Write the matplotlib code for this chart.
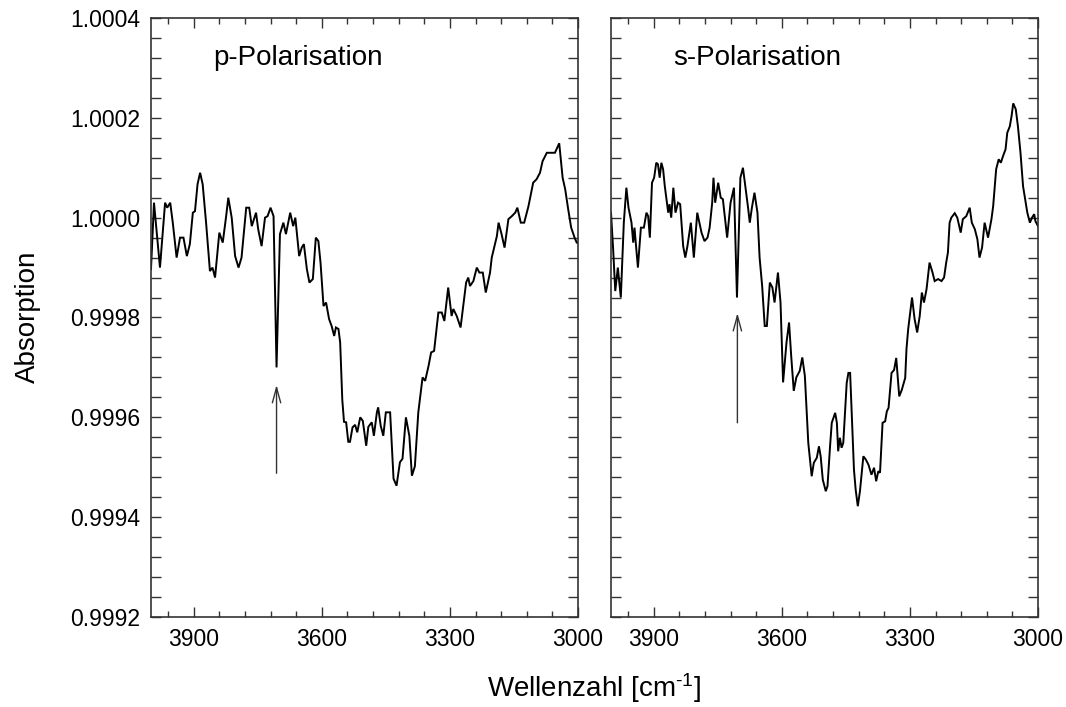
import numpy as np
import matplotlib
matplotlib.use("Agg")
import matplotlib.pyplot as plt
from matplotlib.ticker import MultipleLocator, FixedLocator, FormatStrFormatter

plt.rcParams['font.family'] = ['Liberation Sans', 'DejaVu Sans']
plt.rcParams['mathtext.fontset'] = 'custom'
plt.rcParams['mathtext.rm'] = 'Liberation Sans'
plt.rcParams['mathtext.it'] = 'Liberation Sans'

# ---- data: wavenumber (cm^-1) and absorption offset from 1.0 in units of 1e-4 ----
p_wn = [4000, 3993, 3979, 3967, 3962, 3955, 3949, 3940, 3932, 3924,
        3916, 3909, 3902, 3897, 3891, 3885, 3879, 3871, 3862, 3856,
        3850, 3840, 3832, 3824, 3819, 3811, 3803, 3795, 3788, 3777,
        3770, 3764, 3754, 3749, 3741, 3733, 3727, 3720, 3713, 3706,
        3698, 3690, 3684, 3674, 3667, 3662, 3653, 3647, 3642, 3635,
        3629, 3621, 3614, 3608, 3603, 3596, 3590, 3583, 3577, 3571,
        3567, 3561, 3557,
        3552, 3548, 3543, 3538, 3534, 3528, 3522, 3517, 3510, 3504,
        3496, 3491, 3483, 3478, 3471, 3468, 3462, 3456, 3450, 3440,
        3432, 3425, 3417, 3411, 3403, 3395, 3389, 3382, 3374, 3364,
        3358, 3350, 3344, 3337, 3327, 3319, 3313, 3304, 3296, 3292,
        3284, 3275, 3262, 3257, 3253, 3245, 3237, 3231, 3223, 3216,
        3206, 3202, 3190, 3186, 3179, 3172, 3163, 3155, 3147, 3142,
        3134, 3126, 3116, 3105, 3097, 3089, 3083, 3073, 3054, 3044,
        3036, 3030, 3023, 3016, 3008, 3003, 3000]
p_off = [-1.03, 0.30, -1.00, 0.30, 0.20, 0.30, -0.10, -0.80, -0.40, -0.40,
         -0.77, -0.53, 0.10, 0.13, 0.67, 0.90, 0.67, -0.10, -1.07, -1.00,
         -1.20, -0.30, -0.50, 0.03, 0.40, 0.00, -0.77, -1.00, -0.80, 0.20,
         0.20, -0.17, 0.10, -0.23, -0.57, 0.00, 0.03, 0.20, 0.03, -3.00,
         -0.33, -0.10, -0.33, 0.10, -0.17, 0.00, -0.77, -0.60, -0.53, -1.03,
         -1.30, -1.23, -0.40, -0.47, -0.90, -1.77, -1.70, -2.03, -2.17, -2.37,
         -2.20, -2.23, -2.50,
         -3.65, -4.09, -4.10, -4.49, -4.49, -4.20, -4.15, -4.30, -4.00, -4.07,
         -4.57, -4.19, -4.10, -4.37, -3.90, -3.80, -4.17, -4.37, -3.90, -3.90,
         -5.23, -5.37, -4.90, -4.83, -4.00, -4.37, -5.17, -4.98, -3.90, -3.20,
         -3.27, -2.97, -2.70, -2.67, -1.90, -1.90, -2.07, -1.40, -1.97, -1.83,
         -1.97, -2.20, -1.30, -1.20, -1.37, -1.27, -1.00, -1.10, -1.10, -1.50,
         -1.10, -0.80, -0.37, -0.10, -0.33, -0.60, -0.03, 0.03, 0.10, 0.20,
         -0.10, -0.10, 0.23, 0.70, 0.77, 0.90, 1.13, 1.30, 1.30, 1.49,
         0.80, 0.57, 0.17, -0.20, -0.40, -0.50, -0.50]

s_wn = [4000, 3995, 3990, 3984, 3977, 3970, 3964, 3959, 3952, 3948,
        3945, 3937, 3930, 3923, 3917, 3913, 3909, 3904, 3899, 3894,
        3890, 3886, 3882, 3878, 3874, 3866, 3863, 3859, 3854, 3849,
        3843, 3838, 3831, 3826, 3821, 3813, 3806, 3798, 3788, 3781,
        3774, 3769, 3763, 3760, 3756, 3749, 3743, 3738, 3728, 3720,
        3712, 3705, 3697, 3691, 3685, 3679, 3675, 3670, 3664, 3657,
        3652, 3646, 3640, 3635, 3628, 3622, 3617, 3609, 3603, 3597,
        3589, 3583, 3578, 3572, 3566, 3558, 3552, 3546,
        3538, 3530, 3525, 3518, 3513, 3509, 3504, 3497, 3493, 3487,
        3483, 3475, 3471, 3468, 3464, 3460, 3456, 3448, 3444, 3440,
        3436, 3431, 3427, 3422, 3417, 3409, 3403, 3397, 3390, 3384,
        3379, 3374, 3370, 3364, 3358, 3354, 3350, 3343, 3337, 3332,
        3325, 3319, 3311,
        3308, 3304, 3295, 3289, 3283, 3277, 3272, 3267, 3261, 3254,
        3247, 3242, 3234, 3226, 3220, 3215, 3211, 3207, 3203, 3195,
        3189, 3181, 3176, 3168, 3160, 3155, 3148, 3142, 3137, 3131,
        3125, 3117, 3109, 3105, 3098, 3092, 3087, 3082, 3076, 3072,
        3066, 3062, 3058, 3052, 3047, 3041, 3035, 3030, 3025, 3019,
        3014, 3009, 3006, 3000]
s_off = [0.10, -0.63, -1.47, -1.00, -1.60, -0.10, 0.60, 0.20, -0.10, -0.50,
         -0.20, -1.00, -0.20, -0.20, 0.10, 0.03, -0.40, 0.70, 0.80, 1.10,
         1.07, 0.80, 1.10, 0.97, 0.63, 0.10, 0.27, 0.00, 0.60, 0.10,
         0.30, 0.27, -0.57, -0.80, -0.57, -0.10, -0.80, 0.10, -0.30, -0.47,
         -0.40, -0.20, 0.30, 0.80, 0.30, 0.70, 0.40, 0.37, -0.40, 0.30,
         0.60, -1.60, 0.80, 1.00, 0.60, 0.20, -0.10, 0.20, 0.50, 0.10,
         -0.80, -1.37, -2.17, -2.17, -1.30, -1.40, -1.70, -1.10, -1.70, -3.30,
         -2.50, -2.10, -2.77, -3.47, -3.20, -3.07, -2.80, -3.17,
         -4.51, -5.18, -4.91, -4.81, -4.58, -4.78, -5.25, -5.48, -5.38, -4.58,
         -4.11, -3.91, -4.11, -4.68, -4.41, -4.61, -4.51, -3.31, -3.11, -3.11,
         -3.98, -5.05, -5.45, -5.78, -5.48, -4.78, -4.85, -4.95, -5.15, -5.01,
         -5.28, -5.08, -5.11, -4.11, -4.08, -3.88, -3.81, -3.11, -3.05, -2.81,
         -3.58, -3.45, -3.21,
         -2.63, -2.23, -1.60, -2.03, -2.30, -1.97, -1.50, -1.70, -1.43, -0.90,
         -1.10, -1.27, -1.23, -1.27, -1.20, -0.90, -0.70, -0.10, 0.00, 0.09,
         0.00, -0.30, -0.03, 0.03, 0.20, -0.10, -0.23, -0.43, -0.80, -0.60,
         -0.10, -0.40, -0.03, 0.23, 0.97, 1.17, 1.10, 1.23, 1.37, 1.70,
         1.83, 2.03, 2.29, 2.17, 1.83, 1.30, 0.63, 0.37, 0.10, -0.10,
         0.00, 0.07, -0.07, -0.17]

panel_titles = ["p-Polarisation", "s-Polarisation"]
# arrows: (wavenumber, tail offset, tip offset) in 1e-4 units
arrow_p = (3706, -5.12, -3.35)
arrow_s = (3704, -4.11, -1.91)

y_major = [0.9992, 0.9994, 0.9996, 0.9998, 1.0000, 1.0002, 1.0004]
y_minor = list(np.round(np.arange(0.9992, 1.00041, 0.00004), 6))

p_abs = 1.0 + np.array(p_off) * 1e-4
s_abs = 1.0 + np.array(s_off) * 1e-4

W, H = 1066, 707
fig = plt.figure(figsize=(W / 100, H / 100), dpi=100)
axL = fig.add_axes([151 / W, 1 - 617 / H, 427 / W, 599 / H])
axR = fig.add_axes([611 / W, 1 - 617 / H, 427 / W, 599 / H])

edge = '#333333'
for ax, wn, ab, title, arr in [(axL, p_wn, p_abs, panel_titles[0], arrow_p),
                               (axR, s_wn, s_abs, panel_titles[1], arrow_s)]:
    ax.plot(wn, ab, color='black', lw=1.4, solid_joinstyle='miter')
    ax.set_xlim(4000, 3000)
    ax.set_ylim(0.9992, 1.0004)
    ax.xaxis.set_major_locator(MultipleLocator(300))
    ax.xaxis.set_minor_locator(MultipleLocator(60))
    ax.yaxis.set_major_locator(FixedLocator(y_major))
    ax.yaxis.set_minor_locator(FixedLocator(y_minor))
    ax.yaxis.set_major_formatter(FormatStrFormatter('%.4f'))
    ax.tick_params(axis='both', which='both', direction='in', top=True,
                   right=True, color=edge, width=1.0, labelsize=16.5)
    ax.tick_params(axis='x', which='major', length=7, pad=8)
    ax.tick_params(axis='x', which='minor', length=4)
    ax.tick_params(axis='y', which='both', length=7, pad=8)
    for sp in ax.spines.values():
        sp.set_color(edge)
        sp.set_linewidth(1.2)
    ax.text(0.145, 0.922, title, transform=ax.transAxes, fontsize=20,
            ha='left', va='baseline')
    x0, t0, t1 = arr
    ax.annotate('', xy=(x0, 1 + t1 * 1e-4), xytext=(x0, 1 + t0 * 1e-4),
                arrowprops=dict(arrowstyle='->,head_length=0.55,head_width=0.15',
                                lw=1.0, color='#333333', shrinkA=0, shrinkB=0,
                                mutation_scale=20))

axR.tick_params(axis='y', which='both', labelleft=False)

fig.text(594 / W, 1 - 688 / H, r'Wellenzahl [cm$^{\text{-1}}$]', fontsize=20,
         ha='center', va='center')
fig.text(28 / W, 1 - 317 / H, 'Absorption', fontsize=20, rotation=90,
         ha='center', va='center')

fig.savefig('out.png', dpi=100)
